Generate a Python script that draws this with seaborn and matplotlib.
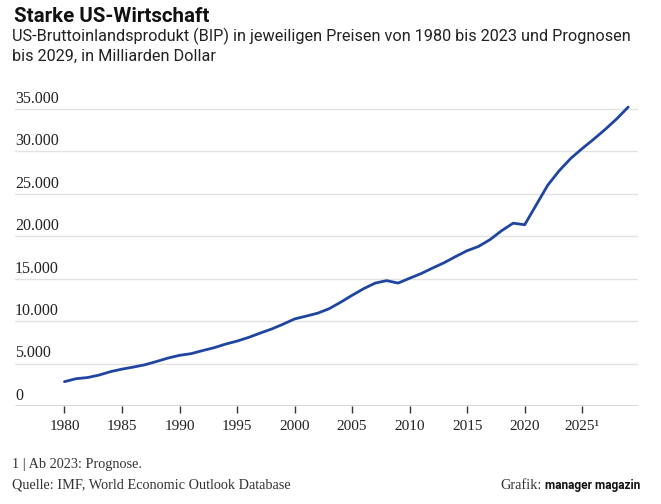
import numpy as np
import pandas as pd
import matplotlib.pyplot as plt
import seaborn as sns

# BIP in Mrd. Dollar, ab 2023 Prognose
years = list(range(1980, 2030))
gdp = [2857, 3207, 3344, 3634, 4038, 4339, 4580, 4855, 5236, 5642,
       5963, 6158, 6520, 6859, 7287, 7640, 8073, 8578, 9063, 9631,
       10251, 10582, 10929, 11457, 12217, 13039, 13816, 14474, 14770, 14478,
       15049, 15600, 16254, 16881, 17608, 18295, 18805, 19612, 20657, 21540,
       21354, 23681, 26007, 27721, 29168, 30338, 31436, 32596, 33835, 35230]

x_ticks = [1980, 1985, 1990, 1995, 2000, 2005, 2010, 2015, 2020, 2025]
x_labels = ["1980", "1985", "1990", "1995", "2000", "2005", "2010", "2015", "2020", "2025¹"]
y_ticks = [0, 5000, 10000, 15000, 20000, 25000, 30000, 35000]

df = pd.DataFrame({"Jahr": years, "BIP": gdp})

sns.set_theme(style="white")
plt.rcParams["font.family"] = ["Liberation Serif", "DejaVu Serif"]

fig = plt.figure(figsize=(6.61, 5.04), dpi=100)
ax = fig.add_axes([0.0227, 0.1946, 0.9425, 0.606])

sns.lineplot(data=df, x="Jahr", y="BIP", ax=ax, color="#1f45a0", linewidth=2.0)

ax.set_xlim(1975.7, 2029.85)
ax.set_ylim(0, 36000)

for v in y_ticks[1:]:
    ax.axhline(v, color="#e2e2e2", linewidth=1.0, zorder=0)
ax.axhline(0, color="#333333", linewidth=1.0, zorder=3)

for v in y_ticks:
    ax.annotate(f"{v:,}".replace(",", "."), xy=(0, v), xycoords=("axes fraction", "data"),
                xytext=(0, 1.5), textcoords="offset points", ha="left", va="bottom",
                fontsize=11.5, color="#222222")

ax.set_yticks([])
ax.set_xticks(x_ticks)
ax.set_xticklabels(x_labels, fontsize=11, color="#222222")
ax.tick_params(axis="x", length=5, width=1, color="#333333", pad=5, bottom=True)
for s in ax.spines.values():
    s.set_visible(False)
ax.set_xlabel("")
ax.set_ylabel("")

fig.text(0.021, 0.968, "Starke US-Wirtschaft", fontsize=14.8, fontweight="bold",
         family=["Roboto"], va="center", color="#111111")
fig.text(0.018, 0.927, "US-Bruttoinlandsprodukt (BIP) in jeweiligen Preisen von 1980 bis 2023 und Prognosen",
         fontsize=11.7, family=["Roboto"], va="center", color="#222222")
fig.text(0.018, 0.889, "bis 2029, in Milliarden Dollar",
         fontsize=11.7, family=["Roboto"], va="center", color="#222222")

fig.text(0.018, 0.079, "1 | Ab 2023: Prognose.", fontsize=10.3, va="center", color="#333333")
fig.text(0.018, 0.037, "Quelle: IMF, World Economic Outlook Database", fontsize=10.3, va="center", color="#333333")
t = fig.text(0.968, 0.037, "manager magazin", fontsize=8.6, fontweight="bold",
             family=["Roboto"], va="center", ha="right", color="#111111")
fig.canvas.draw()
bb = t.get_window_extent()
fig.text(bb.x0 / fig.bbox.width - 0.004, 0.037, "Grafik:", fontsize=10.3, va="center", ha="right", color="#333333")

fig.savefig("out.png", dpi=100)
